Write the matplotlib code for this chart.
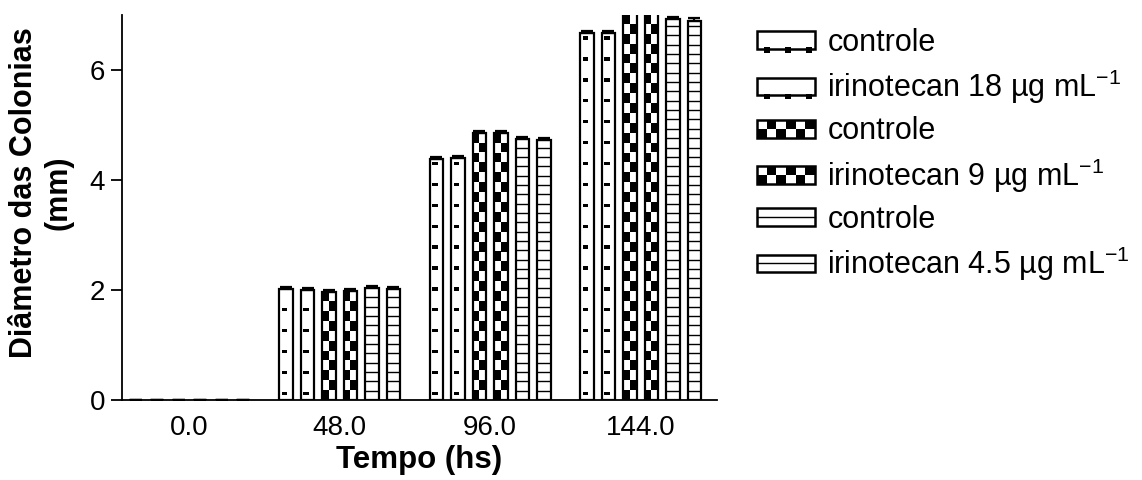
import numpy as np
import matplotlib
matplotlib.use('Agg')
import matplotlib.pyplot as plt
from matplotlib.patches import Rectangle
from matplotlib.lines import Line2D
from matplotlib.legend_handler import HandlerBase

plt.rcParams['font.family'] = ['Liberation Sans', 'DejaVu Sans']
plt.rcParams['mathtext.fontset'] = 'custom'
plt.rcParams['mathtext.rm'] = 'Liberation Sans'
plt.rcParams['mathtext.it'] = 'Liberation Sans:italic'
plt.rcParams['mathtext.bf'] = 'Liberation Sans:bold'

# data
tempos = ['0.0', '48.0', '96.0', '144.0']
labels = ['controle',
          'irinotecan 18 µg mL$^{\\mathregular{-1}}$',
          'controle',
          'irinotecan 9 µg mL$^{\\mathregular{-1}}$',
          'controle',
          'irinotecan 4.5 µg mL$^{\\mathregular{-1}}$']
controle_1 = [0.0, 2.02, 4.38, 6.67]
irino_18 = [0.0, 2.00, 4.40, 6.67]
controle_2 = [0.0, 1.96, 4.86, 7.30]
irino_9 = [0.0, 1.98, 4.85, 7.30]
controle_3 = [0.0, 2.04, 4.75, 6.93]
irino_45 = [0.0, 2.01, 4.72, 6.90]
erro = [0.0, 0.04, 0.04, 0.04]

series = [controle_1, irino_18, controle_2, irino_9, controle_3, irino_45]
kinds = ['dash', 'dash', 'check', 'check', 'lines', 'lines']


class Pat:
    def __init__(self, kind):
        self.kind = kind


class PatHandler(HandlerBase):
    def create_artists(self, legend, h, xd, yd, w, ht, fs, trans):
        x0, y0 = -xd, -yd
        arts = [Rectangle((x0, y0), w, ht, fc='white', ec='none', transform=trans)]
        if h.kind == 'dash':
            for k in range(3):
                arts.append(Rectangle((x0 + w * (0.12 + 0.36 * k), y0 - ht * 0.2), w * 0.1, ht * 0.3,
                                      fc='black', ec='none', transform=trans))
        elif h.kind == 'check':
            nc = 6
            for i in range(nc):
                for r in range(2):
                    if (i + r) % 2 == 0:
                        arts.append(Rectangle((x0 + w * i / nc, y0 + ht * r / 2), w / nc, ht / 2,
                                              fc='black', ec='none', transform=trans))
        else:
            arts.append(Line2D([x0, x0 + w], [y0 + ht / 2] * 2, color='black', lw=1.0, transform=trans))
        arts.append(Rectangle((x0, y0), w, ht, fc='none', ec='black', lw=1.8, transform=trans))
        return arts


fig = plt.figure(figsize=(11.42, 4.8), dpi=100)
ax = fig.add_axes([122 / 1142, 80 / 480, 595 / 1142, 385 / 480])

n = len(series)
pitch = n + 1
w = 0.62
for j, (vals, kind) in enumerate(zip(series, kinds)):
    xs = np.arange(len(tempos)) * pitch + j
    ax.bar(xs, vals, w, color='white', edgecolor='none', zorder=2)
    if kind == 'check':
        cx, cb, ch = [], [], []
        for x, v in zip(xs, vals):
            y, k = 0.0, 0
            while y < v:
                cx.append(x - w / 2 if k % 2 == 0 else x)
                cb.append(y)
                ch.append(min(0.18, v - y))
                y += 0.18
                k += 1
        ax.bar(cx, ch, w / 2, bottom=cb, align='edge', color='black', lw=0, zorder=3)
    elif kind == 'dash':
        dx, db = [], []
        for x, v in zip(xs, vals):
            for yc in np.arange(0.12, v - 0.05, 0.38):
                dx.append(x - 0.2)
                db.append(yc - 0.03)
        ax.bar(dx, [0.06] * len(dx), 0.26, bottom=db, align='edge', color='black', lw=0, zorder=3)
    else:
        for x, v in zip(xs, vals):
            ys = np.arange(0.17, v, 0.17)
            ax.hlines(ys, x - w / 2, x + w / 2, color='black', lw=1.0, zorder=3)
    ax.bar(xs, vals, w, facecolor='none', edgecolor='black', lw=1.6, zorder=4)
    ax.errorbar(xs, vals, yerr=[np.zeros(len(erro)), erro], fmt='none', ecolor='black',
                capsize=4, capthick=1.6, elinewidth=1.6, zorder=5)

ax.set_xlim(-0.63, 27.05)
ax.set_ylim(0, 7)
ax.set_yticks([0, 2, 4, 6])
ax.set_xticks(np.arange(len(tempos)) * pitch + (n - 1) / 2)
ax.set_xticklabels(tempos)
ax.tick_params(axis='x', length=0, pad=11, labelsize=20)
ax.tick_params(axis='y', length=8, width=1.3, pad=4, labelsize=20)
for s in ['top', 'right']:
    ax.spines[s].set_visible(False)
for s in ['left', 'bottom']:
    ax.spines[s].set_linewidth(1.3)

ax.set_xlabel('Tempo (hs)', fontsize=22.5, fontweight='bold', labelpad=3)
ax.set_ylabel('Diâmetro das Colonias\n(mm)', fontsize=22, fontweight='bold')
ax.yaxis.set_label_coords(-0.081, 0.538)

handles = [Pat(k) for k in kinds]
fig.legend(handles, labels, handler_map={Pat: PatHandler()}, loc='upper left',
           bbox_to_anchor=(757 / 1142, 1 - 28 / 480), bbox_transform=fig.transFigure,
           frameon=False, fontsize=22, borderpad=0, borderaxespad=0,
           handlelength=1.9, handleheight=0.52, handletextpad=0.4, labelspacing=0.33)

fig.savefig('out.png', dpi=100)
